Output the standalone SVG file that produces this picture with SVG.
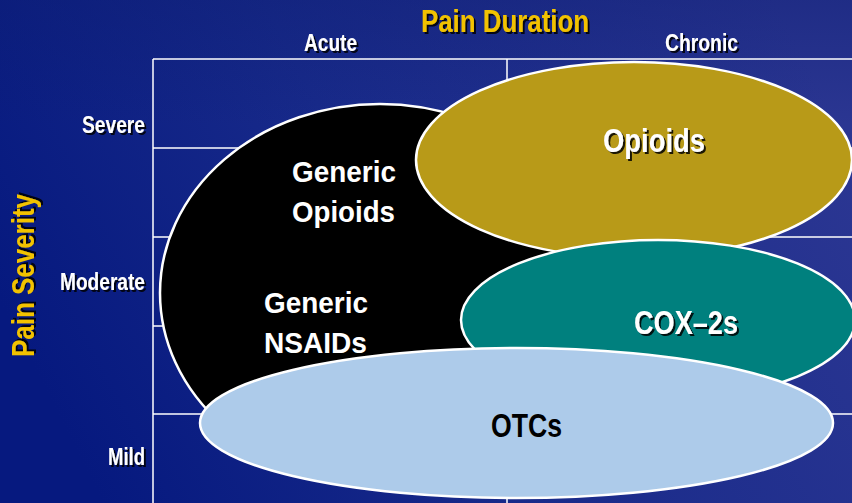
<svg xmlns="http://www.w3.org/2000/svg" width="852" height="503" viewBox="0 0 852 503">
  <defs>
    <linearGradient id="bg" x1="0" y1="0.6" x2="1" y2="0.3">
      <stop offset="0" stop-color="#06197f"/>
      <stop offset="0.45" stop-color="#182a8a"/>
      <stop offset="1" stop-color="#2b3692"/>
    </linearGradient>
    <linearGradient id="topShade" x1="0" y1="0" x2="0" y2="1">
      <stop offset="0" stop-color="#0a1a6e" stop-opacity="0.35"/>
      <stop offset="0.25" stop-color="#0a1a6e" stop-opacity="0"/>
    </linearGradient>
    <filter id="shadow" x="-10%" y="-20%" width="130%" height="150%">
      <feDropShadow dx="2" dy="2" stdDeviation="0.4" flood-color="#000000" flood-opacity="0.85"/>
    </filter>
  </defs>
  <style>
    .grid { stroke: #ffffff; stroke-width: 1.5; fill: none; }
    .blob { stroke: #ffffff; stroke-width: 2.5; }
    text { font-family: "Liberation Sans", Arial, sans-serif; font-weight: bold; }
    .axis { fill: #f2c200; font-size: 31px; filter: url(#shadow); }
    .tick { fill: #ffffff; font-size: 23.5px; filter: url(#shadow); }
    .inner { fill: #ffffff; font-size: 29.5px; }
    .big { fill: #ffffff; font-size: 33px; filter: url(#shadow); }
    .dark { fill: #000000; font-size: 34px; }
  </style>

  <!-- background -->
  <rect x="0" y="0" width="852" height="503" fill="url(#bg)"/>
  <rect x="0" y="0" width="852" height="503" fill="url(#topShade)"/>

  <!-- axis titles and tick labels -->
  <g id="axes">
    <text class="axis" x="421" y="32" textLength="168" lengthAdjust="spacingAndGlyphs">Pain Duration</text>
    <text class="axis" transform="translate(34,357) rotate(-90)" x="0" y="0" textLength="163" lengthAdjust="spacingAndGlyphs">Pain Severity</text>
    <text class="tick" x="304" y="51" textLength="53" lengthAdjust="spacingAndGlyphs">Acute</text>
    <text class="tick" x="665" y="51" textLength="73" lengthAdjust="spacingAndGlyphs">Chronic</text>
    <text class="tick" x="82" y="133" textLength="63" lengthAdjust="spacingAndGlyphs">Severe</text>
    <text class="tick" x="60" y="290" textLength="85" lengthAdjust="spacingAndGlyphs">Moderate</text>
    <text class="tick" x="108" y="465" textLength="37" lengthAdjust="spacingAndGlyphs">Mild</text>
  </g>

  <!-- grid lines -->
  <g id="grid" class="grid">
    <line x1="153" y1="59" x2="153" y2="503"/>
    <line x1="507" y1="59" x2="507" y2="503"/>
    <line x1="153" y1="59" x2="852" y2="59"/>
    <line x1="153" y1="148" x2="852" y2="148"/>
    <line x1="153" y1="237" x2="852" y2="237"/>
    <line x1="153" y1="326" x2="852" y2="326"/>
    <line x1="153" y1="414" x2="852" y2="414"/>
  </g>

  <!-- no connectors in this chart -->
  <g id="connectors"/>

  <g id="generic">
    <ellipse class="blob" cx="380" cy="293" rx="220" ry="189" fill="#000000"/>
    <text class="inner" x="292" y="182" textLength="104" lengthAdjust="spacingAndGlyphs">Generic</text>
    <text class="inner" x="292" y="222" textLength="103" lengthAdjust="spacingAndGlyphs">Opioids</text>
    <text class="inner" x="264" y="313" textLength="104" lengthAdjust="spacingAndGlyphs">Generic</text>
    <text class="inner" x="264" y="353" textLength="103" lengthAdjust="spacingAndGlyphs">NSAIDs</text>
  </g>

  <g id="opioids">
    <ellipse class="blob" cx="634" cy="160" rx="218" ry="98" fill="#b89a18"/>
    <text class="big" x="603" y="152" textLength="102" lengthAdjust="spacingAndGlyphs">Opioids</text>
  </g>

  <g id="cox2">
    <ellipse class="blob" cx="658" cy="320" rx="197" ry="80" fill="#00807e"/>
    <text class="big" x="634" y="334" textLength="104" lengthAdjust="spacingAndGlyphs">COX–2s</text>
  </g>

  <g id="otc">
    <ellipse class="blob" cx="516.5" cy="423" rx="316.5" ry="75" fill="#adcbea"/>
    <text class="dark" x="491" y="437" textLength="71" lengthAdjust="spacingAndGlyphs">OTCs</text>
  </g>
</svg>
